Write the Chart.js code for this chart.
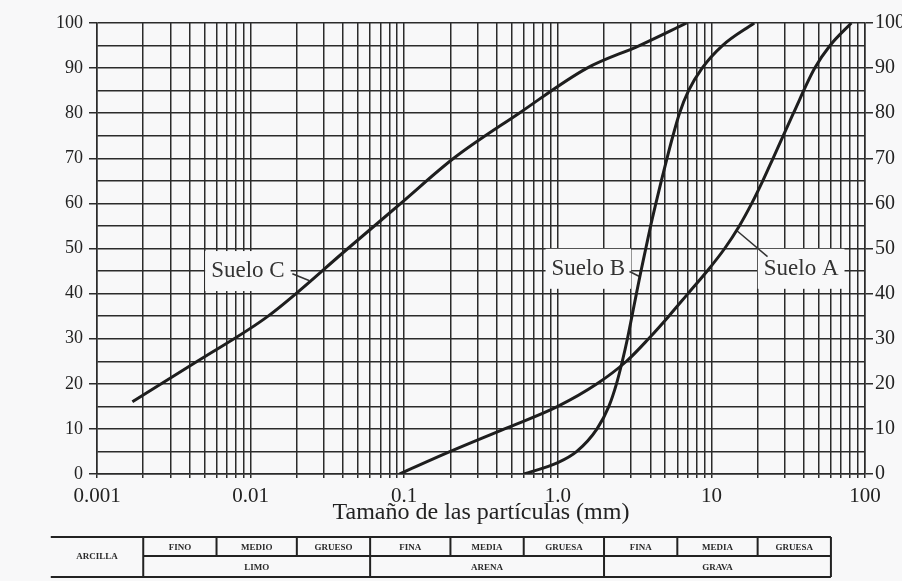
<!DOCTYPE html>
<html>
<head>
<meta charset="utf-8">
<script src="https://cdn.jsdelivr.net/npm/chart.js@4.4.1/dist/chart.umd.min.js"></script>
<style>
  html, body { margin: 0; padding: 0; background: #f8f8f9; }
  #wrap { width: 902px; height: 581px; }
</style>
</head>
<body>
<div id="wrap"><canvas id="grading"></canvas></div>
<script>
// particle size (mm) vs percent passing
const sizeA = [0.093, 0.2, 0.45, 1.0, 1.8, 2.8, 3.9, 5.28, 7.04, 9.39, 12.2, 15.2, 18.3, 21.6, 25.2, 34.2, 47.1, 59.2, 81.5];
const passA = [0, 5, 10, 15, 20, 25, 30, 35, 40, 45, 50, 55, 60, 65, 70, 80, 90, 95, 100];
const sizeB = [0.6, 1.0, 1.33, 1.8, 2.15, 2.41, 2.63, 2.84, 3.04, 3.25, 3.48, 3.74, 4.02, 4.35, 4.72, 5.14, 5.62, 6.2, 7.1, 8.7, 11.8, 19];
const passB = [0, 2.5, 5, 10, 15, 20, 25, 30, 35, 40, 45, 50, 55, 60, 65, 70, 75, 80, 85, 90, 95, 100];
const sizeC = [0.0017, 0.0045, 0.013, 0.043, 0.095, 0.21, 0.56, 1.55, 3.4, 6.9];
const passC = [16, 25, 35, 50, 60, 70, 80, 90, 95, 100];

const xDecades = [0.001, 0.01, 0.1, 1, 10, 100];
const xTickLabels = ['0.001', '0.01', '0.1', '1.0', '10', '100'];

// curve labels (data coords) and their short leader lines
const curveNames = ['Suelo A', 'Suelo B', 'Suelo C'];
const nameX = [38.4, 1.58, 0.0096];
const nameY = [45.5, 45.5, 45];
const leaderFrom = [[23.2, 48.2], [2.93, 44.9], [0.0187, 44.4]];
const leaderTo = [[14.6, 54], [3.4, 43.8], [0.024, 42.9]];

// soil classification strip under the axis
const classBounds = [0.0005, 0.002, 0.006, 0.02, 0.06, 0.2, 0.6, 2, 6, 20, 60];
const subClasses = ['FINO', 'MEDIO', 'GRUESO', 'FINA', 'MEDIA', 'GRUESA', 'FINA', 'MEDIA', 'GRUESA'];
const mainClasses = ['ARCILLA', 'LIMO', 'ARENA', 'GRAVA'];
const mainSpans = [[0, 1], [1, 4], [4, 7], [7, 10]];

const ink = '#2b2b2b';
const serif = 'Liberation Serif';

function pts(xs, ys) {
  return xs.map((x, i) => ({ x: x, y: ys[i] }));
}

function curve(label, xs, ys) {
  return {
    label: label,
    data: pts(xs, ys),
    borderColor: '#1e1e1e',
    borderWidth: 3,
    pointRadius: 0,
    fill: false,
    cubicInterpolationMode: 'monotone'
  };
}

const labelsPlugin = {
  id: 'curveLabels',
  beforeDatasetsDraw(chart) {
    const ctx = chart.ctx, x = chart.scales.x, y = chart.scales.y;
    ctx.save();
    ctx.font = '23px "' + serif + '"';
    ctx.textAlign = 'center';
    ctx.textBaseline = 'middle';
    curveNames.forEach((name, i) => {
      const cx = x.getPixelForValue(nameX[i]);
      const cy = y.getPixelForValue(nameY[i]);
      const w = ctx.measureText(name).width + 12;
      ctx.fillStyle = '#f8f8f9';
      ctx.fillRect(cx - w / 2, cy - 20, w, 40);
      ctx.fillStyle = '#333';
      ctx.fillText(name, cx, cy);
      ctx.strokeStyle = '#333';
      ctx.lineWidth = 1.5;
      ctx.beginPath();
      ctx.moveTo(x.getPixelForValue(leaderFrom[i][0]), y.getPixelForValue(leaderFrom[i][1]));
      ctx.lineTo(x.getPixelForValue(leaderTo[i][0]), y.getPixelForValue(leaderTo[i][1]));
      ctx.stroke();
    });
    ctx.restore();
  }
};

const tablePlugin = {
  id: 'classTable',
  afterDraw(chart) {
    const ctx = chart.ctx, x = chart.scales.x;
    const top = 537, mid = 556, bottom = 577;
    const px = classBounds.map(v => x.getPixelForValue(v));
    const left = px[0], right = px[px.length - 1];
    ctx.save();
    ctx.strokeStyle = '#222';
    ctx.lineWidth = 2;
    ctx.beginPath();
    ctx.moveTo(left, top); ctx.lineTo(right, top);
    ctx.moveTo(px[1], mid); ctx.lineTo(right, mid);
    ctx.moveTo(left, bottom); ctx.lineTo(right, bottom);
    for (let i = 1; i < px.length; i++) {
      const isMain = mainSpans.some(s => s[0] === i || s[1] === i);
      ctx.moveTo(px[i], top);
      ctx.lineTo(px[i], isMain ? bottom : mid);
    }
    ctx.stroke();
    ctx.fillStyle = '#2a2a2a';
    ctx.font = 'bold 9px "' + serif + '"';
    ctx.textAlign = 'center';
    ctx.textBaseline = 'middle';
    subClasses.forEach((s, i) => {
      ctx.fillText(s, (px[i + 1] + px[i + 2]) / 2, (top + mid) / 2 + 1);
    });
    mainClasses.forEach((s, i) => {
      const a = px[mainSpans[i][0]], b = px[mainSpans[i][1]];
      const cy = i === 0 ? (top + bottom) / 2 : (mid + bottom) / 2 + 1;
      ctx.fillText(s, (a + b) / 2, cy);
    });
    ctx.restore();
  }
};

new Chart(document.getElementById('grading'), {
  type: 'line',
  data: {
    datasets: [
      curve('Suelo A', sizeA, passA),
      curve('Suelo B', sizeB, passB),
      curve('Suelo C', sizeC, passC)
    ]
  },
  options: {
    responsive: true,
    maintainAspectRatio: false,
    animation: false,
    layout: { padding: { left: 0, right: 0, top: 23, bottom: 54 } },
    plugins: { legend: { display: false }, tooltip: { enabled: false } },
    scales: {
      x: {
        type: 'logarithmic',
        min: 0.001,
        max: 100,
        afterBuildTicks: scale => {
          const t = [];
          xDecades.forEach((d, i) => {
            if (i === xDecades.length - 1) { t.push({ value: d }); return; }
            for (let m = 1; m < 10; m++) t.push({ value: d * m });
          });
          scale.ticks = t;
        },
        ticks: {
          autoSkip: false,
          maxRotation: 0,
          minRotation: 0,
          padding: 6,
          color: '#222',
          font: { family: serif, size: 21 },
          callback: v => {
            const i = xDecades.findIndex(d => Math.abs(v / d - 1) < 1e-6);
            return i >= 0 ? xTickLabels[i] : '';
          }
        },
        grid: { color: ink, lineWidth: 1.5, tickLength: 4 },
        border: { color: ink, width: 1.5 },
        title: {
          display: true,
          text: 'Tamaño de las partículas (mm)',
          color: '#222',
          font: { family: serif, size: 24 },
          padding: { top: 0, bottom: 0 }
        },
        afterFit: s => { s.height = 53; }
      },
      y: {
        type: 'linear',
        position: 'left',
        min: 0,
        max: 100,
        ticks: {
          stepSize: 5,
          autoSkip: false,
          padding: 6,
          color: '#222',
          font: { family: serif, size: 18 },
          callback: v => (v % 10 === 0 ? String(v) : '')
        },
        grid: {
          color: ink,
          lineWidth: 1.5,
          tickLength: 8,
          tickColor: c => (c.tick && c.tick.value % 10 === 0 ? ink : 'rgba(0,0,0,0)')
        },
        border: { color: ink, width: 1.5 },
        afterFit: s => { s.width = 97; }
      },
      y2: {
        type: 'linear',
        position: 'right',
        min: 0,
        max: 100,
        ticks: {
          stepSize: 10,
          padding: 2,
          color: '#222',
          font: { family: serif, size: 20 }
        },
        grid: { drawOnChartArea: false, color: ink, lineWidth: 1.5, tickLength: 8 },
        border: { color: ink, width: 1.5 },
        afterFit: s => { s.width = 37; }
      }
    }
  },
  plugins: [labelsPlugin, tablePlugin]
});
</script>
</body>
</html>
